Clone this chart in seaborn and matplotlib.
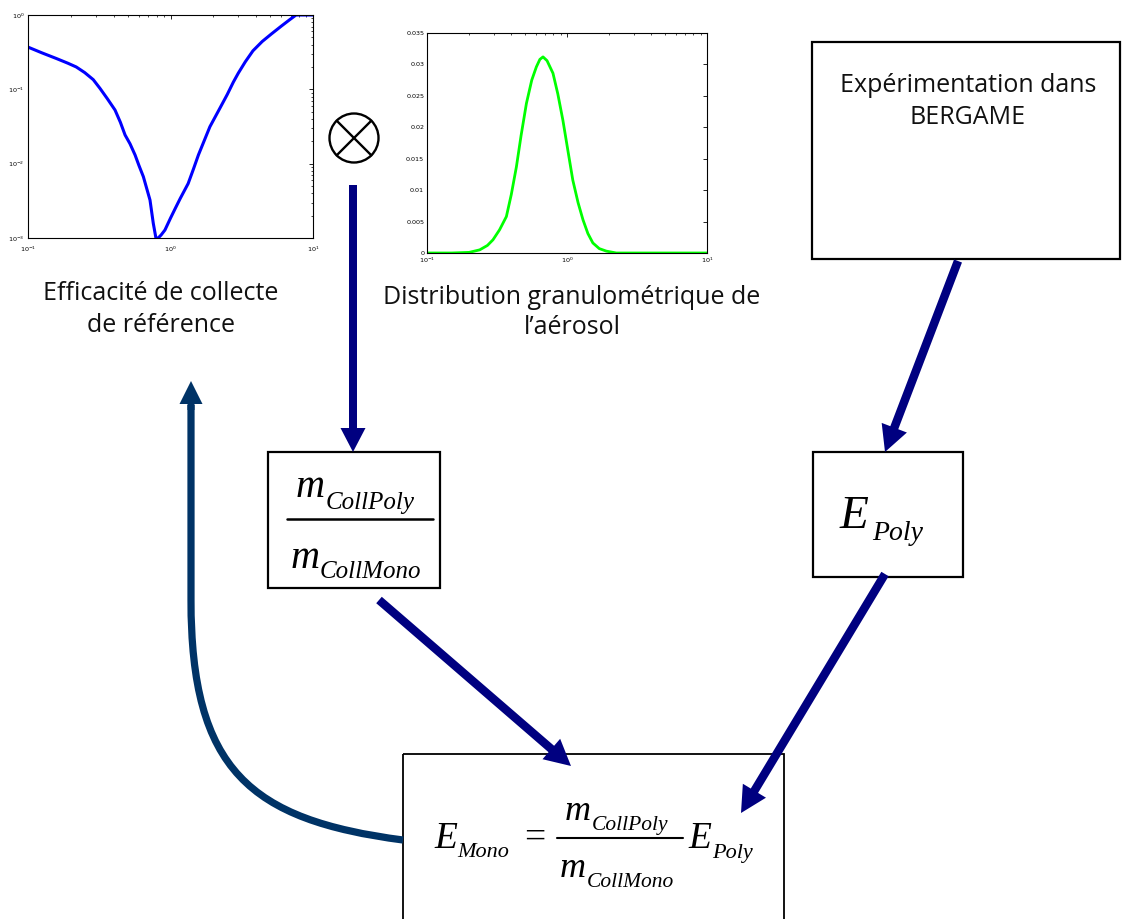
import numpy as np
import pandas as pd
import seaborn as sns
import matplotlib
matplotlib.use("Agg")
import matplotlib.pyplot as plt
from matplotlib.patches import Rectangle, Circle, FancyArrow, PathPatch
from matplotlib.path import Path
from matplotlib.ticker import LogLocator, FixedLocator, FuncFormatter, NullFormatter

# ---------------- data ----------------
# reference collection efficiency (log-log)
eff_d = [0.10, 0.125, 0.158, 0.19, 0.218, 0.25, 0.287, 0.320, 0.36, 0.408, 0.445, 0.480,
         0.52, 0.564, 0.60, 0.645, 0.718, 0.757, 0.79, 0.82, 0.86, 0.914, 1.0, 1.08, 1.17,
         1.33, 1.45, 1.57, 1.89, 2.22, 2.50, 2.76, 2.99, 3.35, 3.79, 4.4, 5.13, 6.0, 6.82,
         7.6, 8.5, 10.0]
eff_v = [0.37, 0.31, 0.26, 0.225, 0.20, 0.168, 0.135, 0.103, 0.075, 0.0527, 0.036, 0.0243,
         0.0185, 0.0131, 0.0095, 0.00668, 0.00324, 0.00158, 0.00100, 0.00100, 0.00110, 0.00128, 0.00185, 0.0025, 0.0034,
         0.0054, 0.0085, 0.0131, 0.0314, 0.0556, 0.085, 0.125, 0.165, 0.235, 0.33, 0.44, 0.56, 0.71, 0.857,
         1.0, 1.0, 1.0]

# aerosol size distribution (semilog x)
dist_d = [0.10, 0.15, 0.20, 0.238, 0.27, 0.296, 0.33, 0.369, 0.40, 0.435, 0.47, 0.513, 0.56,
          0.604, 0.64, 0.674, 0.72, 0.794, 0.86, 0.935, 1.02, 1.10, 1.20, 1.30, 1.41, 1.53, 1.70,
          1.91, 2.25, 3.0, 5.0, 10.0]
dist_v = [0.0, 0.0, 0.0001, 0.0005, 0.0012, 0.0021, 0.0037, 0.0058, 0.0093, 0.0137, 0.0187, 0.0238, 0.0275,
          0.0296, 0.0308, 0.0312, 0.0306, 0.0286, 0.0253, 0.0211, 0.0160, 0.0116, 0.0080, 0.0053, 0.0031, 0.0016, 0.0007,
          0.0003, 0.0, 0.0, 0.0, 0.0]

dist_yticks = [0, 0.005, 0.01, 0.015, 0.02, 0.025, 0.03, 0.035]

label_eff = ["Efficacité de collecte", "de référence"]
label_dist = ["Distribution granulométrique de", "l\u2019aérosol"]
label_exp = ["Expérimentation dans", "BERGAME"]

# ---------------- figure ----------------
sns.set_theme(style="white")
plt.rcParams["font.family"] = ["Open Sans", "DejaVu Sans"]

W, H = 1122, 919
fig = plt.figure(figsize=(W / 100, H / 100), dpi=100)
fig.patch.set_facecolor("white")

# overlay in pixel coordinates for the diagram
ov = fig.add_axes([0, 0, 1, 1], zorder=0)
ov.set_xlim(0, W)
ov.set_ylim(H, 0)
ov.axis("off")

NAVY = "#000080"
DARK = "#003366"


def px_axes(x0, y0, x1, y1):
    return fig.add_axes([x0 / W, 1 - y1 / H, (x1 - x0) / W, (y1 - y0) / H], zorder=2)


def style_small(ax):
    for s in ax.spines.values():
        s.set_visible(True)
        s.set_color("black")
        s.set_linewidth(0.8)
    ax.tick_params(which="both", direction="in", top=True, right=True,
                   labelsize=4.6, colors="black", pad=2)
    ax.tick_params(which="major", length=3, width=0.6)
    ax.tick_params(which="minor", length=1.6, width=0.5)
    for lbl in ax.get_xticklabels() + ax.get_yticklabels():
        lbl.set_family(["DejaVu Sans"])
    ax.set_xlabel("")
    ax.set_ylabel("")
    ax.grid(False)


# left plot: collection efficiency
ax1 = px_axes(28, 15, 313, 238)
ax1.set_xscale("log")
ax1.set_yscale("log")
sns.lineplot(x=eff_d, y=eff_v, ax=ax1, color="#0000ff", linewidth=2.2, sort=False)
ax1.set_xlim(0.1, 10)
ax1.set_ylim(1e-3, 1)
ax1.xaxis.set_major_locator(LogLocator(base=10, numticks=5))
ax1.yaxis.set_major_locator(LogLocator(base=10, numticks=6))
ax1.xaxis.set_minor_locator(LogLocator(base=10, subs=np.arange(2, 10), numticks=20))
ax1.yaxis.set_minor_locator(LogLocator(base=10, subs=np.arange(2, 10), numticks=20))
ax1.xaxis.set_minor_formatter(NullFormatter())
ax1.yaxis.set_minor_formatter(NullFormatter())
style_small(ax1)
ax1.tick_params(axis="x", pad=4.5)
ax1.tick_params(axis="y", pad=2.5)

# middle plot: size distribution
ax2 = px_axes(427, 33, 707, 253)
ax2.set_xscale("log")
sns.lineplot(x=dist_d, y=dist_v, ax=ax2, color="#00ff00", linewidth=2.0, sort=False)
ax2.set_xlim(0.1, 10)
ax2.set_ylim(0, 0.035)
ax2.yaxis.set_major_locator(FixedLocator(dist_yticks))
ax2.yaxis.set_major_formatter(FuncFormatter(lambda v, p: "%g" % round(v, 4)))
ax2.xaxis.set_major_locator(LogLocator(base=10, numticks=5))
ax2.xaxis.set_minor_locator(LogLocator(base=10, subs=np.arange(2, 10), numticks=20))
ax2.xaxis.set_minor_formatter(NullFormatter())
style_small(ax2)

# ---------------- diagram elements ----------------
BOX_LW = 1.6


def box(x0, y0, x1, y1, lw=BOX_LW):
    ov.add_patch(Rectangle((x0, y0), x1 - x0, y1 - y0, fill=False, ec="black", lw=lw, zorder=3))


box(812, 42, 1120, 259)
box(268, 452, 440, 588)
box(813, 452, 963, 577)
box(403, 754, 784, 960, lw=1.3)

# otimes symbol
ov.add_patch(Circle((354, 138), 24.5, fill=False, ec="black", lw=1.7, zorder=3))
r = 24.5 / np.sqrt(2)
ov.plot([354 - r, 354 + r], [138 - r, 138 + r], color="black", lw=1.7, zorder=3)
ov.plot([354 - r, 354 + r], [138 + r, 138 - r], color="black", lw=1.7, zorder=3)


def arrow(x0, y0, x1, y1, color=NAVY, width=8.5, hw=27, hl=26):
    ov.add_patch(FancyArrow(x0, y0, x1 - x0, y1 - y0, width=width, head_width=hw,
                            head_length=hl, length_includes_head=True,
                            color=color, lw=0, zorder=4))


arrow(353, 185, 353, 452, width=8, hw=25, hl=24)
arrow(958, 261, 885, 452)
arrow(379, 600, 571, 766)
arrow(885, 574, 741, 813)

# curved feedback arrow
verts = [(403, 840), (250, 820), (191, 770), (191, 600), (191, 405)]
codes = [Path.MOVETO, Path.CURVE4, Path.CURVE4, Path.CURVE4, Path.LINETO]
ov.add_patch(PathPatch(Path(verts, codes), fill=False, ec=DARK, lw=5.2,
                       capstyle="butt", zorder=4))
ov.add_patch(FancyArrow(191, 410, 0, -29, width=7, head_width=23, head_length=23,
                        length_includes_head=True, color=DARK, lw=0, zorder=4))

# ---------------- texts ----------------
TXT = 18
TC = "#111111"
ov.text(161, 293, label_eff[0], ha="center", va="center", fontsize=TXT, color=TC)
ov.text(161, 325, label_eff[1], ha="center", va="center", fontsize=TXT, color=TC)
ov.text(572, 297, label_dist[0], ha="center", va="center", fontsize=TXT, color=TC)
ov.text(572, 327, label_dist[1], ha="center", va="center", fontsize=TXT, color=TC)
ov.text(968, 86, label_exp[0], ha="center", va="center", fontsize=TXT, color=TC)
ov.text(968, 117, label_exp[1], ha="center", va="center", fontsize=TXT, color=TC)

SERIF = ["Liberation Serif", "DejaVu Serif"]


def it(x, y, s, size, style="italic"):
    ov.text(x, y, s, ha="left", va="baseline", fontsize=size, family=SERIF,
            style=style, color="black", zorder=5)


# fraction box
it(296, 497, "m", 29)
it(326, 509, "CollPoly", 18)
ov.plot([287, 433], [519, 519], color="black", lw=1.8, zorder=5)
it(291, 568, "m", 29)
it(320, 578, "CollMono", 18)

# E_Poly box
it(840, 528, "E", 34)
it(872, 540, "Poly", 20)

# main equation
it(434, 848, "E", 27)
it(457, 857, "Mono", 16)
it(524, 848, "=", 27, style="normal")
it(565, 820, "m", 26)
it(592, 830, "CollPoly", 15.5)
ov.plot([557, 683], [838, 838], color="black", lw=1.5, zorder=5)
it(560, 877, "m", 26)
it(587, 887, "CollMono", 15.5)
it(688, 848, "E", 27)
it(712, 858, "Poly", 16)

fig.savefig("out.png", dpi=100, facecolor="white")
